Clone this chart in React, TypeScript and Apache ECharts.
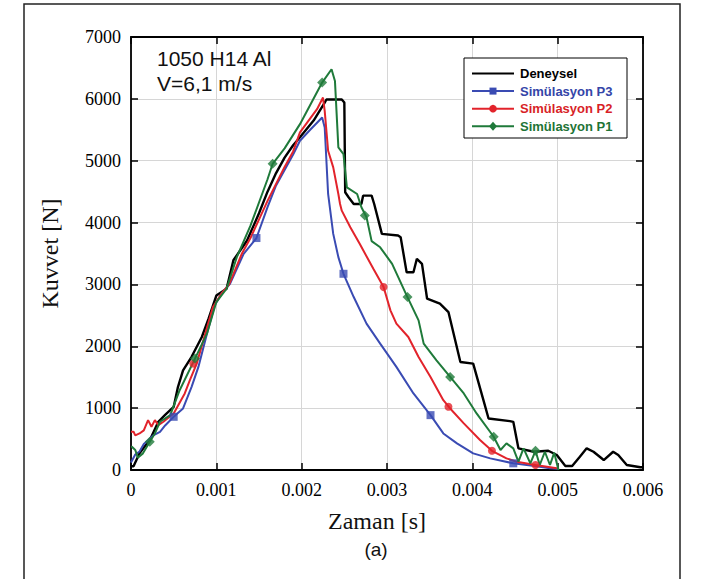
import React, { useEffect, useRef } from "react";
import * as echarts from "echarts";

// ---- axis ticks ----
const xTicks = [0, 0.001, 0.002, 0.003, 0.004, 0.005, 0.006];
const yTicks = [0, 1000, 2000, 3000, 4000, 5000, 6000, 7000];

// ---- series names / colours ----
const seriesNames = ["Deneysel", "Simülasyon P3", "Simülasyon P2", "Simülasyon P1"];
const seriesColors = ["#000000", "#3a4bb3", "#e2232b", "#1f7a3a"];
const legendTextColors = ["#000000", "#3445a8", "#d81f27", "#1e7436"];

// ---- data: [time s, force N] ----
const deneysel: [number, number][] = [
  [0, 60], [0.00003, 60], [0.0001, 270], [0.00016, 380], [0.00022, 480], [0.00032, 780],
  [0.0004, 890], [0.0005, 1020], [0.00055, 1340], [0.00061, 1610], [0.00071, 1830],
  [0.00083, 2150], [0.00091, 2450], [0.001, 2820], [0.00112, 2930], [0.0012, 3390],
  [0.00136, 3710], [0.0015, 4150], [0.0016, 4500], [0.0017, 4800], [0.0018, 5050],
  [0.0019, 5250], [0.00198, 5380], [0.00214, 5650], [0.00227, 5940], [0.00229, 5990],
  [0.00247, 5990], [0.0025, 5940], [0.00251, 4490], [0.00255, 4410], [0.00261, 4300],
  [0.0027, 4300], [0.00272, 4435], [0.00282, 4435], [0.00285, 4300], [0.00294, 3817],
  [0.00313, 3790], [0.00316, 3763], [0.00323, 3198], [0.00331, 3198], [0.00335, 3414],
  [0.00341, 3333], [0.00347, 2769], [0.00362, 2688], [0.00372, 2554], [0.00386, 1747],
  [0.00401, 1720], [0.00413, 1129], [0.00419, 833], [0.00444, 790], [0.00448, 779],
  [0.00454, 350], [0.00472, 295], [0.00489, 311], [0.00499, 242], [0.00509, 65],
  [0.00517, 65], [0.00526, 215], [0.00534, 350], [0.00542, 295], [0.00554, 161],
  [0.00565, 295], [0.00571, 242], [0.00581, 81], [0.00597, 44], [0.006, 44],
];

const simP3: [number, number][] = [
  [0, 120], [0.00005, 250], [0.0001, 300], [0.00015, 420], [0.0002, 480], [0.00026, 560],
  [0.00034, 618], [0.0004, 720], [0.0005, 860], [0.00061, 995], [0.00071, 1344],
  [0.00079, 1667], [0.00089, 2204], [0.00098, 2661], [0.00106, 2850], [0.00116, 3011],
  [0.00132, 3495], [0.00147, 3750], [0.0016, 4250], [0.0017, 4600], [0.0018, 4850],
  [0.0019, 5100], [0.00198, 5323], [0.0021, 5500], [0.00224, 5699], [0.00227, 5537],
  [0.00231, 4462], [0.00237, 3817], [0.00243, 3441], [0.00249, 3172], [0.00261, 2796],
  [0.00276, 2366], [0.00292, 2043], [0.00311, 1667], [0.00331, 1237], [0.00351, 887],
  [0.00366, 591], [0.00382, 430], [0.00401, 269], [0.00421, 188], [0.00448, 108],
  [0.00475, 60], [0.00491, 27], [0.005, 20],
];

const simP2: [number, number][] = [
  [0, 618], [0.00003, 618], [0.00005, 560], [0.0001, 591], [0.00015, 640], [0.0002, 806],
  [0.00024, 699], [0.00028, 806], [0.00032, 726], [0.00038, 780], [0.0005, 914],
  [0.00063, 1237], [0.00069, 1452], [0.00077, 1720], [0.00087, 2204], [0.00096, 2634],
  [0.00106, 2850], [0.00115, 3000], [0.0013, 3500], [0.0014, 3750], [0.0016, 4350],
  [0.0018, 4900], [0.0019, 5150], [0.00198, 5457], [0.00218, 5833], [0.00225, 6021],
  [0.00227, 5806], [0.00231, 5161], [0.00237, 4892], [0.00243, 4462], [0.00245, 4300],
  [0.00247, 4193], [0.00257, 3924], [0.00268, 3656], [0.00284, 3253], [0.00296, 2957],
  [0.00304, 2581], [0.00311, 2366], [0.00325, 2150], [0.00337, 1828], [0.00351, 1505],
  [0.00366, 1129], [0.00374, 995], [0.0039, 753], [0.00409, 484], [0.00423, 311],
  [0.0044, 188], [0.00452, 134], [0.00474, 81], [0.00499, 27],
];

const simP1: [number, number][] = [
  [0, 376], [0.00001, 376], [0.00005, 323], [0.00008, 200], [0.00014, 269], [0.00022, 457],
  [0.00028, 591], [0.00034, 780], [0.00046, 887], [0.00057, 1290], [0.00075, 1801],
  [0.00089, 2204], [0.001, 2715], [0.00112, 2930], [0.00124, 3441], [0.0014, 3950],
  [0.0016, 4700], [0.00166, 4950], [0.0018, 5200], [0.00198, 5591], [0.00224, 6263],
  [0.00235, 6478], [0.00239, 6290], [0.00243, 5215], [0.00249, 5107], [0.00253, 4570],
  [0.00265, 4462], [0.0027, 4247], [0.00276, 4086], [0.00282, 3700], [0.00292, 3600],
  [0.00306, 3333], [0.00323, 2823], [0.00337, 2419], [0.00343, 2043], [0.00358, 1774],
  [0.00374, 1505], [0.0039, 1237], [0.00405, 914], [0.00425, 537], [0.00433, 323],
  [0.0044, 430], [0.00448, 350], [0.00454, 134], [0.0046, 350], [0.00468, 108],
  [0.00474, 311], [0.00479, 81], [0.00485, 295], [0.00491, 81], [0.00496, 280],
  [0.005, 54], [0.00501, 0],
];

// ---- marker positions ----
const markersP3: [number, number][] = [
  [0.0005, 860], [0.00147, 3750], [0.00249, 3172], [0.00351, 887], [0.00448, 108],
];
const markersP2: [number, number][] = [
  [0.00073, 1720], [0.00296, 2957], [0.00372, 1022], [0.00423, 311], [0.00474, 81],
];
const markersP1: [number, number][] = [
  [0.00022, 457], [0.00075, 1801], [0.00166, 4950], [0.00224, 6263], [0.00274, 4113],
  [0.00324, 2796], [0.00374, 1505], [0.00425, 537], [0.00474, 311],
];

const annotationLines = ["1050 H14 Al", "V=6,1 m/s"];
const xTitle = "Zaman [s]";
const yTitle = "Kuvvet [N]";
const caption = "(a)";

const SERIF = "'Liberation Serif', 'Times New Roman', serif";
const SANS = "'Liberation Sans', Arial, sans-serif";

export default function App() {
  const ref = useRef<HTMLDivElement>(null);

  useEffect(() => {
    if (!ref.current) return;
    const chart = echarts.init(ref.current, null, { renderer: "svg" });

    const gridLeft = 131;
    const gridTop = 37;
    const gridW = 512;
    const gridH = 433;

    const mkLine = () => ({ show: true, onZero: false, lineStyle: { color: "#000", width: 1.8 } });
    const mkTick = () => ({ show: true, inside: true, length: 7, lineStyle: { color: "#000", width: 1.5 } });

    const fmtX = (v: number) => {
      const k = xTicks.find((t) => Math.abs(t - v) < 1e-9);
      const val = k === undefined ? v : k;
      return val === 0 ? "0" : val.toFixed(3);
    };
    const fmtY = (v: number) => {
      const k = yTicks.find((t) => Math.abs(t - v) < 1e-6);
      return String(k === undefined ? Math.round(v) : k);
    };

    const lineSeries = [deneysel, simP3, simP2, simP1].map((d, i) => ({
      type: "line",
      name: seriesNames[i],
      data: d,
      symbol: "none",
      smooth: false,
      lineStyle: { color: seriesColors[i], width: i === 0 ? 2.4 : 2 },
      z: 2 + i,
      silent: true,
    }));

    const markerDefs: [any, string, number, number][] = [
      [markersP3, "rect", 8, 1],
      [markersP2, "circle", 8, 2],
      [markersP1, "diamond", 10, 3],
    ];
    const markerSeries = markerDefs.map(([d, sym, size, ci]) => ({
      type: "scatter",
      name: seriesNames[ci],
      data: d,
      symbol: sym,
      symbolSize: size,
      itemStyle: { color: seriesColors[ci] },
      z: 10,
      silent: true,
    }));

    // legend drawn as graphic
    const lgX = 464, lgY = 58, lgW = 163, lgH = 80;
    const legendEls: any[] = [
      { type: "rect", shape: { x: lgX, y: lgY, width: lgW, height: lgH }, style: { fill: "#fff", stroke: "#000", lineWidth: 1 }, z: 100 },
    ];
    const markerKinds = [null, "rect", "circle", "diamond"];
    seriesNames.forEach((nm, i) => {
      const cy = 73.5 + i * 17.6;
      legendEls.push({ type: "line", shape: { x1: 472, y1: cy, x2: 514, y2: cy }, style: { stroke: seriesColors[i], lineWidth: 2 }, z: 101 });
      const mk = markerKinds[i];
      if (mk === "rect") legendEls.push({ type: "rect", shape: { x: 489.5, y: cy - 3.5, width: 7, height: 7 }, style: { fill: seriesColors[i] }, z: 102 });
      if (mk === "circle") legendEls.push({ type: "circle", shape: { cx: 493, cy, r: 3.8 }, style: { fill: seriesColors[i] }, z: 102 });
      if (mk === "diamond") legendEls.push({ type: "polygon", shape: { points: [[493, cy - 4.5], [497, cy], [493, cy + 4.5], [489, cy]] }, style: { fill: seriesColors[i] }, z: 102 });
      legendEls.push({
        type: "text", x: 520, y: cy, z: 103,
        style: { text: nm, fill: legendTextColors[i], font: `bold 13px ${SANS}`, verticalAlign: "middle", align: "left" },
      });
    });

    const option: any = {
      animation: false,
      backgroundColor: "#ffffff",
      grid: { left: gridLeft, top: gridTop, width: gridW, height: gridH, containLabel: false },
      xAxis: [
        {
          type: "value", min: 0, max: 0.006, interval: 0.001, position: "bottom",
          axisLine: mkLine(),
          axisTick: mkTick(),
          axisLabel: { margin: 11, color: "#000", fontFamily: SERIF, fontSize: 18, formatter: fmtX },
          splitLine: { show: true, lineStyle: { color: "#d6d6d6", width: 1 } },
        },
        {
          type: "value", min: 0, max: 0.006, interval: 0.001, position: "top",
          axisLine: mkLine(),
          axisTick: mkTick(),
          axisLabel: { show: false },
          splitLine: { show: false },
        },
      ],
      yAxis: [
        {
          type: "value", min: 0, max: 7000, interval: 1000, position: "left",
          axisLine: mkLine(),
          axisTick: mkTick(),
          axisLabel: { margin: 10, color: "#000", fontFamily: SERIF, fontSize: 18, formatter: fmtY },
          splitLine: { show: true, lineStyle: { color: "#d6d6d6", width: 1 } },
        },
        {
          type: "value", min: 0, max: 7000, interval: 1000, position: "right",
          axisLine: mkLine(),
          axisTick: mkTick(),
          axisLabel: { show: false },
          splitLine: { show: false },
        },
      ],
      series: [...lineSeries, ...markerSeries],
      graphic: [
        // outer frame
        { type: "rect", shape: { x: 24, y: 4, width: 656, height: 590 }, style: { fill: "none", stroke: "#222", lineWidth: 1.5 }, z: -10, silent: true },
        ...annotationLines.map((t, i) => ({
          type: "text", x: 157, y: 58 + i * 25, z: 100,
          style: { text: t, fill: "#111", font: `21px ${SANS}`, verticalAlign: "middle", align: "left" },
        })),
        {
          type: "text", x: 50, y: 253.5, rotation: Math.PI / 2, z: 100,
          style: { text: yTitle, fill: "#111", font: `24px ${SERIF}`, align: "center", verticalAlign: "middle" },
        },
        {
          type: "text", x: 377, y: 521, z: 100,
          style: { text: xTitle, fill: "#111", font: `24px ${SERIF}`, align: "center", verticalAlign: "middle" },
        },
        {
          type: "text", x: 376, y: 549, z: 100,
          style: { text: caption, fill: "#111", font: `19px ${SANS}`, align: "center", verticalAlign: "middle" },
        },
        ...legendEls,
      ],
    };

    chart.setOption(option);
    return () => chart.dispose();
  }, []);

  return (
    <div
      ref={ref}
      style={{ position: "fixed", left: 0, top: 0, width: 704, height: 579, background: "#fff" }}
    />
  );
}
